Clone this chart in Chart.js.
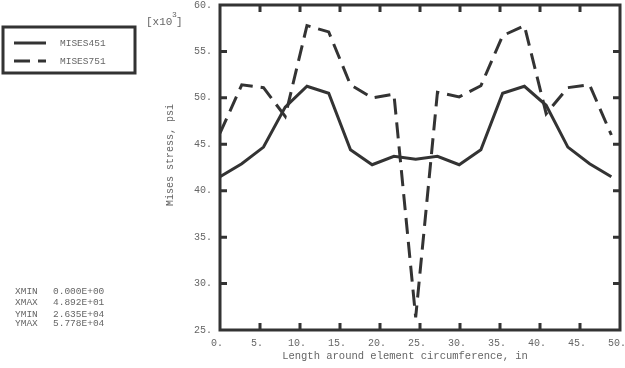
<!DOCTYPE html>
<html>
<head>
<meta charset="utf-8">
<script src="https://cdn.jsdelivr.net/npm/chart.js@4"></script>
<style>
  html, body { margin: 0; padding: 0; background: #fff; }
  #wrap { width: 625px; height: 368px; }
</style>
</head>
<body>
<div id="wrap"><canvas id="myChart" width="625" height="368"></canvas></div>
<script>
// distance around circumference, in
const xValues = [0, 2.72, 5.44, 8.15, 10.87, 13.59, 16.31, 19.02, 21.74, 24.46,
                 27.18, 29.9, 32.61, 35.33, 38.05, 40.77, 43.48, 46.2, 48.92];
// Mises stress, ksi (x10^3 psi)
const mises451 = [41.5, 42.9, 44.7, 49.0, 51.25, 50.5, 44.4, 42.8, 43.7, 43.4,
                  43.7, 42.8, 44.4, 50.5, 51.25, 49.2, 44.7, 42.9, 41.5];
const mises751 = [46.2, 51.4, 51.1, 48.0, 57.78, 57.1, 51.4, 50.0, 50.4, 26.35,
                  50.6, 50.1, 51.3, 56.7, 57.78, 48.3, 51.1, 51.4, 46.0];
const seriesLabels = ['MISES451', 'MISES751'];
const xTicks = [0, 5, 10, 15, 20, 25, 30, 35, 40, 45, 50];
const yTicks = [25, 30, 35, 40, 45, 50, 55, 60];
const infoLines = [
    ['XMIN', '0.000E+00'],
    ['XMAX', '4.892E+01'],
    ['YMIN', '2.635E+04'],
    ['YMAX', '5.778E+04']
];

const FONT = '"Liberation Mono", "DejaVu Sans Mono", monospace';
const INK = '#333333';
const TEXT = '#666666';

function toPoints(ys) {
    return ys.map((y, i) => ({ x: xValues[i], y: y }));
}

// frame, inward ticks, legend box and loose text
const framePlugin = {
    id: 'frame',
    afterDraw(chart) {
        const ctx = chart.ctx;
        const a = chart.chartArea;
        const xs = chart.scales.x;
        const ys = chart.scales.y;
        ctx.save();
        ctx.strokeStyle = INK;
        ctx.lineWidth = 3;
        ctx.strokeRect(a.left, a.top, a.right - a.left, a.bottom - a.top);

        const tl = 7;
        ctx.beginPath();
        xTicks.slice(1, -1).forEach(v => {
            const px = xs.getPixelForValue(v);
            ctx.moveTo(px, a.bottom); ctx.lineTo(px, a.bottom - tl);
            ctx.moveTo(px, a.top); ctx.lineTo(px, a.top + tl);
        });
        yTicks.slice(1, -1).forEach(v => {
            const py = ys.getPixelForValue(v);
            ctx.moveTo(a.left, py); ctx.lineTo(a.left + tl, py);
            ctx.moveTo(a.right, py); ctx.lineTo(a.right - tl, py);
        });
        ctx.stroke();

        // legend
        ctx.strokeRect(3, 27, 132, 46);
        chart.data.datasets.forEach((ds, i) => {
            const y = 43 + i * 18;
            ctx.beginPath();
            ctx.setLineDash(ds.borderDash || []);
            ctx.lineWidth = 3;
            ctx.moveTo(14, y); ctx.lineTo(46, y);
            ctx.stroke();
            ctx.setLineDash([]);
            ctx.fillStyle = TEXT;
            ctx.font = '9.5px ' + FONT;
            ctx.textBaseline = 'middle';
            ctx.textAlign = 'left';
            ctx.fillText(ds.label, 60, y);
        });

        // axis titles
        ctx.fillStyle = TEXT;
        ctx.font = '10.5px ' + FONT;
        ctx.textAlign = 'center';
        ctx.textBaseline = 'middle';
        ctx.fillText('Length around element circumference, in', 405, 356);

        ctx.save();
        ctx.translate(170, 155);
        ctx.rotate(-Math.PI / 2);
        ctx.font = '10px ' + FONT;
        ctx.fillText('Mises stress, psi', 0, 0);
        ctx.restore();

        // multiplier
        ctx.textAlign = 'left';
        ctx.font = '11px ' + FONT;
        ctx.fillText('[x10', 146, 22);
        ctx.font = '8px ' + FONT;
        ctx.fillText('3', 172, 15);
        ctx.font = '11px ' + FONT;
        ctx.fillText(']', 176, 22);

        // min / max info
        ctx.font = '9.5px ' + FONT;
        const rowY = [291, 302, 314, 323];
        infoLines.forEach((row, i) => {
            ctx.fillText(row[0], 15, rowY[i]);
            ctx.fillText(row[1], 53, rowY[i]);
        });
        ctx.restore();
    }
};

const ctx = document.getElementById('myChart').getContext('2d');
new Chart(ctx, {
    type: 'line',
    data: {
        datasets: [
            {
                label: seriesLabels[0],
                data: toPoints(mises451),
                borderColor: INK,
                borderWidth: 3,
                pointRadius: 0,
                tension: 0,
                fill: false
            },
            {
                label: seriesLabels[1],
                data: toPoints(mises751),
                borderColor: INK,
                borderWidth: 3,
                borderDash: [16, 8],
                pointRadius: 0,
                tension: 0,
                fill: false
            }
        ]
    },
    options: {
        responsive: false,
        animation: false,
        events: [],
        layout: { padding: { top: 5, right: 5, left: 0, bottom: 0 } },
        plugins: {
            legend: { display: false },
            tooltip: { enabled: false }
        },
        scales: {
            x: {
                type: 'linear',
                min: 0,
                max: 50,
                grid: { display: false, drawTicks: false },
                border: { display: false },
                afterBuildTicks: scale => { scale.ticks = xTicks.map(v => ({ value: v })); },
                afterFit: scale => {
                    scale.height = 38;
                    scale.paddingLeft = 0;
                    scale.paddingRight = 0;
                },
                ticks: {
                    callback: v => v + '.',
                    color: TEXT,
                    font: { family: FONT, size: 10 },
                    padding: 7,
                    labelOffset: -3,
                    maxRotation: 0,
                    autoSkip: false
                }
            },
            y: {
                min: 25,
                max: 60,
                grid: { display: false, drawTicks: false },
                border: { display: false },
                afterBuildTicks: scale => { scale.ticks = yTicks.map(v => ({ value: v })); },
                afterFit: scale => {
                    scale.width = 220;
                    scale.paddingTop = 0;
                    scale.paddingBottom = 0;
                },
                ticks: {
                    callback: v => v + '.',
                    color: TEXT,
                    font: { family: FONT, size: 10 },
                    padding: 8,
                    labelOffset: 0,
                    autoSkip: false
                }
            }
        }
    },
    plugins: [framePlugin]
});
</script>
</body>
</html>
